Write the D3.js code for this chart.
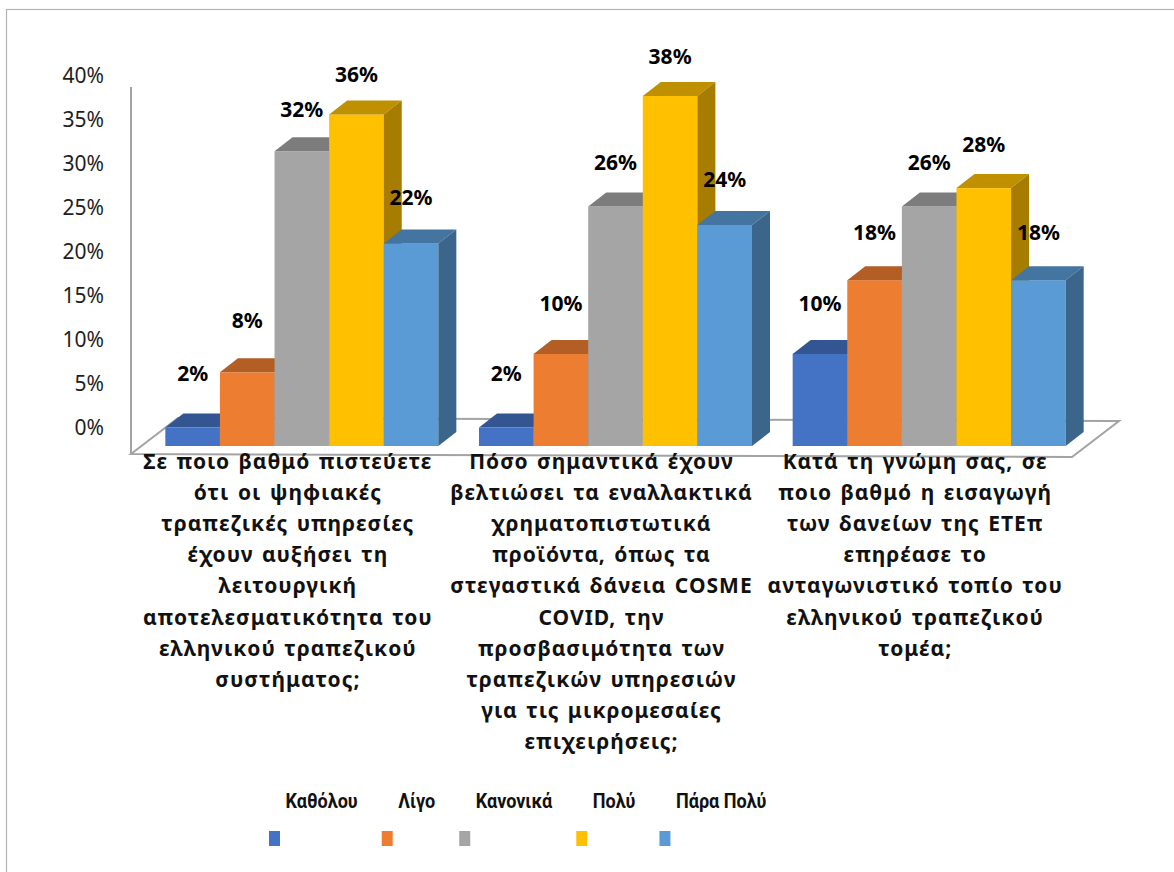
<!DOCTYPE html>
<html lang="el">
<head>
<meta charset="utf-8">
<script src="https://cdn.jsdelivr.net/npm/d3@7"></script>
<style>
  html, body { margin: 0; padding: 0; background: #fff; }
  svg { display: block; }
</style>
</head>
<body>
<svg id="chart" width="1174" height="872"></svg>
<script>
// Survey questions (x categories), one wrapped line per entry
const categories = ["Q1", "Q2", "Q3"];
const categoryLines = [
  ["Σε ποιο βαθμό πιστεύετε", "ότι οι ψηφιακές", "τραπεζικές υπηρεσίες", "έχουν αυξήσει τη",
   "λειτουργική", "αποτελεσματικότητα του", "ελληνικού τραπεζικού", "συστήματος;"],
  ["Πόσο σημαντικά έχουν", "βελτιώσει τα εναλλακτικά", "χρηματοπιστωτικά", "προϊόντα, όπως τα",
   "στεγαστικά δάνεια COSME", "COVID, την", "προσβασιμότητα των", "τραπεζικών υπηρεσιών",
   "για τις μικρομεσαίες", "επιχειρήσεις;"],
  ["Κατά τη γνώμη σας, σε", "ποιο βαθμό η εισαγωγή", "των δανείων της ΕΤΕπ", "επηρέασε το",
   "ανταγωνιστικό τοπίο του", "ελληνικού τραπεζικού", "τομέα;"]
];

// Answer scale (series)
const series = ["Καθόλου", "Λίγο", "Κανονικά", "Πολύ", "Πάρα Πολύ"];
const seriesColors = ["#4472C4", "#ED7D31", "#A5A5A5", "#FFC000", "#5B9BD5"];

// Percentages per series, one value per question
const katholou = [2, 2, 10];
const ligo     = [8, 10, 18];
const kanonika = [32, 26, 26];
const poly     = [36, 38, 28];
const paraPoly = [22, 24, 18];
const seriesValues = [katholou, ligo, kanonika, poly, paraPoly];

const yTicks = [0, 5, 10, 15, 20, 25, 30, 35, 40];

// ---- layout ----
const svg = d3.select("#chart");
const FONT = "'Noto Sans', 'DejaVu Sans', sans-serif";
const depth = { dx: 18, dy: -14 };          // oblique offset of a bar's depth
const floorDepth = { dx: 47, dy: -36 };     // oblique offset of the floor's depth

// outer frame
svg.append("rect")
  .attr("x", 6.5).attr("y", 9.5).attr("width", 1200).attr("height", 900)
  .attr("fill", "none").attr("stroke", "#b4b4b4").attr("stroke-width", 1.2);

// group band on the floor's front edge, series band within a group
const x0 = d3.scaleBand().domain(categories).range([131, 1072]).padding(0);
const groupWidth = 273;
const x1 = d3.scaleBand().domain(series).range([0, groupWidth]).padding(0);
const barShift = 14;  // bars sit set back into the floor

// value scales: the back wall axis and the bars' front plane
const yAxis = d3.scaleLinear().domain([0, 40]).range([428, 76]);
const yFront = d3.scaleLinear().domain([0, 40]).range([446, 446 - 368.4]);

// floor (parallelogram) and the wall edge
const floorFront = [[131, 454], [1072, 457]];
const floorPts = [
  floorFront[0], floorFront[1],
  [floorFront[1][0] + floorDepth.dx, floorFront[1][1] + floorDepth.dy],
  [floorFront[0][0] + floorDepth.dx, floorFront[0][1] + floorDepth.dy]
];
svg.append("polygon")
  .attr("points", floorPts.map(p => p.join(",")).join(" "))
  .attr("fill", "#fff").attr("stroke", "#a3a3a3").attr("stroke-width", 2)
  .attr("stroke-linejoin", "miter");
svg.append("line")
  .attr("x1", 131).attr("x2", 131).attr("y1", 87).attr("y2", 454)
  .attr("stroke", "#a3a3a3").attr("stroke-width", 2);

// y axis labels
const axisG = svg.append("g")
  .attr("transform", "translate(104,0)")
  .call(d3.axisLeft(yAxis).tickValues(yTicks).tickSize(0).tickPadding(0)
    .tickFormat(d => d + "%"));
axisG.select(".domain").remove();
axisG.selectAll("text")
  .attr("font-family", FONT).attr("font-size", 21).attr("fill", "#1e1e1e");

// 3D columns
const shade = (c, k) => d3.interpolateRgb(c, "#000")(k);
const bars = [];
categories.forEach((cat, ci) => {
  const gx = x0(cat) + (x0.bandwidth() - groupWidth) / 2 + barShift;
  series.forEach((s, si) => {
    bars.push({ ci, si, v: seriesValues[si][ci], x: gx + x1(s), w: x1.bandwidth(), color: seriesColors[si] });
  });
});

const barG = svg.append("g");
bars.forEach(b => {
  const y0 = yFront(0), yt = yFront(b.v);
  const g = barG.append("g");
  // front
  g.append("rect").attr("x", b.x).attr("y", yt).attr("width", b.w).attr("height", y0 - yt)
    .attr("fill", b.color);
  // top
  g.append("polygon").attr("points", [
    [b.x, yt], [b.x + b.w, yt], [b.x + b.w + depth.dx, yt + depth.dy], [b.x + depth.dx, yt + depth.dy]
  ].map(p => p.join(",")).join(" ")).attr("fill", shade(b.color, 0.25));
  // right side
  g.append("polygon").attr("points", [
    [b.x + b.w, yt], [b.x + b.w + depth.dx, yt + depth.dy], [b.x + b.w + depth.dx, y0 + depth.dy], [b.x + b.w, y0]
  ].map(p => p.join(",")).join(" ")).attr("fill", shade(b.color, 0.35));
});

// data labels
svg.append("g").selectAll("text").data(bars).join("text")
  .attr("x", d => d.x + d.w / 2)
  .attr("y", d => yAxis(d.v) - 29.5)
  .attr("text-anchor", "middle")
  .attr("font-family", FONT).attr("font-size", 21).attr("font-weight", 700)
  .attr("fill", "#000")
  .text(d => d.v + "%");

// category labels
categories.forEach((cat, ci) => {
  const cx = x0(cat) + x0.bandwidth() / 2;
  svg.append("text")
    .attr("text-anchor", "middle")
    .attr("font-family", FONT).attr("font-size", 21).attr("font-weight", 700)
    .attr("letter-spacing", 1).attr("word-spacing", 2)
    .attr("fill", "#111")
    .selectAll("tspan").data(categoryLines[ci]).join("tspan")
    .attr("x", cx).attr("y", (d, i) => 468.5 + i * 31.2)
    .text(d => d);
});

// legend: condensed labels above swatches, flowing left to right
const legendG = svg.append("g");
const condense = 0.86;
let lx = 269;
series.forEach((s, si) => {
  legendG.append("rect").attr("x", lx).attr("y", 831).attr("width", 11).attr("height", 15)
    .attr("fill", seriesColors[si]);
  const t = legendG.append("text")
    .attr("transform", `translate(${lx + 16.5},808.3) scale(${condense},1)`)
    .attr("font-family", "Roboto, 'Noto Sans', sans-serif")
    .attr("font-size", 21).attr("font-weight", 700)
    .attr("fill", "#111")
    .text(s);
  lx = lx + 16.5 + t.node().getComputedTextLength() * condense + 24;
});
</script>
</body>
</html>
